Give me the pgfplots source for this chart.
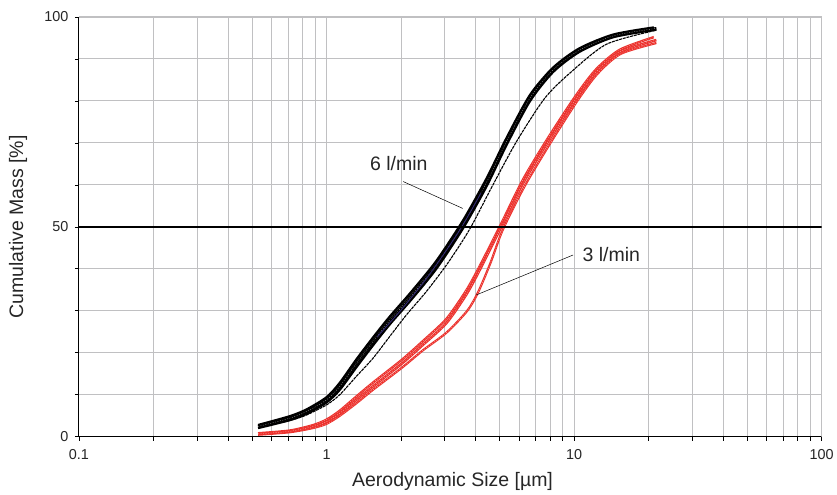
\documentclass[border=0pt]{standalone}
\usepackage{fontspec}
\setmainfont{Liberation Sans}
\usepackage{pgfplots}
\pgfplotsset{compat=1.18}
\definecolor{gridgray}{RGB}{192,192,194}
\definecolor{redline}{RGB}{236,50,45}
\definecolor{navyline}{RGB}{50,40,120}
\begin{document}
\begin{tikzpicture}
\begin{axis}[
  scale only axis,
  width=743pt, height=420pt,
  xmode=log, xmin=0.1, xmax=100,
  ymin=0, ymax=100,
  xtick={0.1,1,10,100}, xticklabels={0.1,1,10,100},
  ytick={0,50,100}, minor ytick={10,20,30,40,60,70,80,90},
  grid=both,
  major grid style={gridgray, line width=1pt},
  minor grid style={gridgray, line width=1pt},
  axis lines*=left,
  axis line style={black, line width=1pt},
  tick align=outside,
  major tick length=4pt, minor tick length=4pt,
  tick style={black, line width=0.8pt},
  /pgf/number format/assume math mode=true,
  ticklabel style={font=\fontsize{14.4}{16}\selectfont, text=black!85},
  xticklabel style={yshift=-5pt},
  yticklabel style={xshift=-3pt},
  label style={font=\fontsize{19.5}{22}\selectfont, text=black!85},
  xlabel={Aerodynamic Size [µm]},
  ylabel={Cumulative Mass [\%]},
  xlabel style={at={(axis description cs:0.503,-0.107)}, anchor=center},
  ylabel style={at={(axis description cs:-0.0821,0.5)}, anchor=center},
  clip=true,
  every axis plot/.append style={smooth, tension=0.45},
]
% frame (top, right) in gray
\addplot[gridgray, line width=1.3pt, sharp plot] coordinates {(0.1,100)(100,100)(100,0)};

% ---- 6 l/min (black)
\addplot[black, line width=2.4pt] coordinates {
(0.529,2.8)(0.711,4.9)(0.83,6.5)(1.0,9.4)(1.13,12.8)(1.32,18.4)(1.54,23.6)(1.80,28.6)
(2.2,34.5)(2.78,41.9)(3.56,51.5)(4.43,61.5)(5.33,71.1)(6.62,81.3)(8.22,87.9)
(10.5,92.5)(14.4,95.8)(21.0,97.5)};
\addplot[black, line width=2.4pt] coordinates {
(0.529,2.1)(0.711,4.0)(0.83,5.5)(1.0,8.2)(1.13,11.2)(1.32,16.6)(1.54,21.8)(1.80,26.8)
(2.2,32.7)(2.78,40.1)(3.56,49.7)(4.43,59.7)(5.33,69.5)(6.62,79.9)(8.22,86.9)
(10.5,91.7)(14.4,95.2)(21.5,97.0)};
\addplot[black, line width=2.6pt] coordinates {
(0.529,2.45)(0.711,4.45)(0.83,6.0)(1.0,8.8)(1.13,12.0)(1.32,17.5)(1.54,22.7)(1.80,27.7)
(2.2,33.6)(2.78,41.0)(3.56,50.6)(4.43,60.6)(5.33,70.3)(6.62,80.6)(8.22,87.4)
(10.5,92.1)(14.4,95.5)(21.5,97.3)};
\addplot[white, line width=0.3pt, dash pattern=on 1pt off 1.5pt, opacity=0.7] coordinates {
(0.529,2.45)(0.711,4.45)(0.83,6.0)(1.0,8.8)(1.13,12.0)(1.32,17.5)(1.54,22.7)(1.80,27.7)
(2.2,33.6)(2.78,41.0)(3.56,50.6)(4.43,60.6)(5.33,70.3)(6.62,80.6)(8.22,87.4)
(10.5,92.1)(14.4,95.5)(21.5,97.3)};
\addplot[navyline, line width=0.8pt] coordinates {
(1.6,23.8)(2.0,30.2)(2.6,38.6)(3.45,49.2)(4.2,58.0)};
\addplot[black, line width=1.1pt, dash pattern=on 3pt off 0.8pt] coordinates {
(0.529,2.2)(0.711,3.9)(0.83,5.2)(1.0,7.6)(1.13,10.0)(1.32,14.4)(1.54,18.7)(1.80,23.9)
(2.10,29.0)(2.53,34.6)(3.1,41.5)(3.79,49.5)(4.7,60.0)(5.85,70.3)(7.6,80.6)
(9.6,86.6)(13.5,93.5)(21.3,96.8)};

% ---- 3 l/min (red)
\addplot[redline, line width=2.4pt] coordinates {
(0.529,0.85)(0.711,1.5)(0.883,2.8)(1.0,4.1)(1.13,6.2)(1.32,9.6)(1.54,12.9)(2.02,18.4)
(2.45,22.8)(3.05,28.1)(3.68,35.0)(4.22,41.4)(5.09,50.9)(6.22,61.3)(7.85,71.2)
(10.2,81.4)(12.3,87.6)(15.3,92.2)(21.0,95.2)};
\addplot[white, line width=0.3pt, dash pattern=on 1pt off 1.5pt, opacity=0.7] coordinates {
(0.529,0.85)(0.711,1.5)(0.883,2.8)(1.0,4.1)(1.13,6.2)(1.32,9.6)(1.54,12.9)(2.02,18.4)
(2.45,22.8)(3.05,28.1)(3.68,35.0)(4.22,41.4)(5.09,50.9)(6.22,61.3)(7.85,71.2)
(10.2,81.4)(12.3,87.6)(15.3,92.2)(21.0,95.2)};
\addplot[redline, line width=2.2pt] coordinates {
(0.529,0.5)(0.711,1.1)(0.883,2.1)(1.0,3.1)(1.13,5.0)(1.32,8.0)(1.54,11.2)(2.02,16.5)
(2.45,20.6)(3.05,24.8)(3.7,30.0)(4.1,34.5)(4.6,41.5)(5.15,49.3)(6.3,59.6)(7.95,69.6)
(10.3,80.0)(12.4,86.4)(15.4,91.2)(21.5,93.8)};
\addplot[white, line width=0.3pt, dash pattern=on 1pt off 1.5pt, opacity=0.7] coordinates {
(0.529,0.5)(0.711,1.1)(0.883,2.1)(1.0,3.1)(1.13,5.0)(1.32,8.0)(1.54,11.2)(2.02,16.5)
(2.45,20.6)(3.05,24.8)(3.7,30.0)(4.1,34.5)(4.6,41.5)(5.15,49.3)(6.3,59.6)(7.95,69.6)
(10.3,80.0)(12.4,86.4)(15.4,91.2)(21.5,93.8)};
\addplot[redline, line width=2.6pt] coordinates {
(0.529,0.7)(0.711,1.3)(0.883,2.45)(1.0,3.6)(1.13,5.6)(1.32,8.8)(1.54,12.0)(2.02,17.5)
(2.45,21.9)(3.05,27.1)(3.68,34.0)(4.22,40.5)(5.09,50.1)(6.22,60.4)(7.85,70.3)
(10.2,80.6)(12.3,87.0)(15.3,91.7)(21.5,94.5)};
\addplot[white, line width=0.3pt, dash pattern=on 1pt off 1.5pt, opacity=0.7] coordinates {
(0.529,0.7)(0.711,1.3)(0.883,2.45)(1.0,3.6)(1.13,5.6)(1.32,8.8)(1.54,12.0)(2.02,17.5)
(2.45,21.9)(3.05,27.1)(3.68,34.0)(4.22,40.5)(5.09,50.1)(6.22,60.4)(7.85,70.3)
(10.2,80.6)(12.3,87.0)(15.3,91.7)(21.5,94.5)};

% 50 % line
\addplot[black, line width=2.8pt, sharp plot] coordinates {(0.1,50)(100,50)};

% labels
\draw[black, line width=0.5pt] (axis cs:2.04,60.8) -- (axis cs:3.55,54.4);
\node[font=\fontsize{19.5}{22}\selectfont, text=black!85] at (axis cs:1.96,65) {6 l/min};
\draw[black, line width=0.5pt] (axis cs:9.9,43.3) -- (axis cs:4.03,33.8);
\node[font=\fontsize{19.5}{22}\selectfont, text=black!85, anchor=west, inner sep=0pt] at (axis cs:10.8,43.3) {3 l/min};

% picture bounds
\path (rel axis cs:0,0) ++(-79pt,-55pt) coordinate (bbll);
\path (rel axis cs:1,1) ++(15pt,17pt) coordinate (bbur);
\end{axis}
\path (bbll) rectangle (bbur);
\end{tikzpicture}
\end{document}
